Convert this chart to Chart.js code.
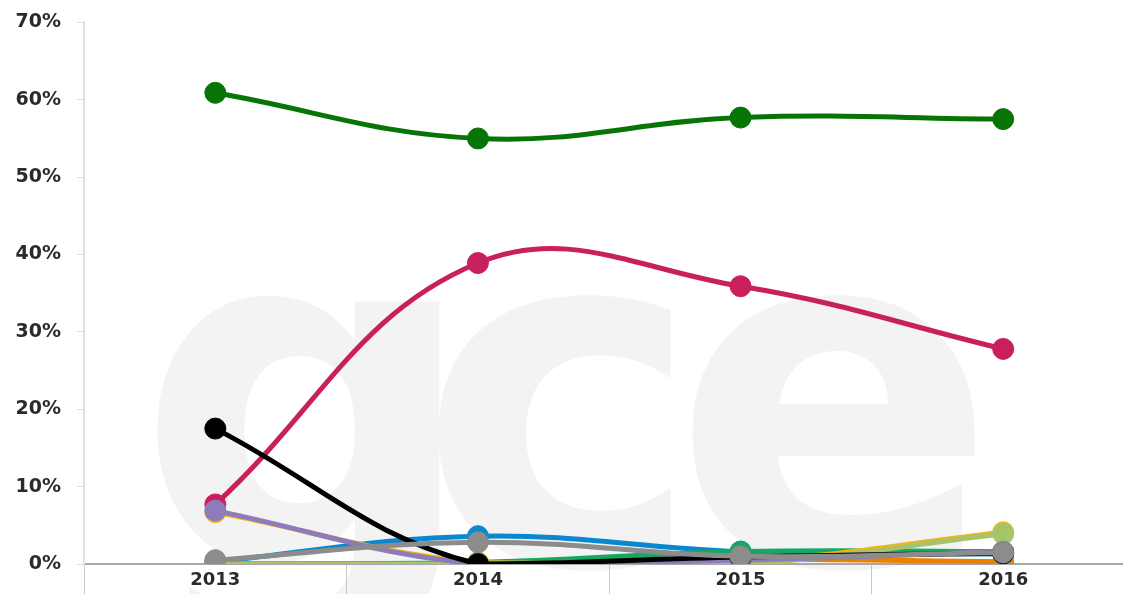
<!DOCTYPE html>
<html>
<head>
<meta charset="utf-8">
<script src="https://cdn.jsdelivr.net/npm/chart.js@4/dist/chart.umd.min.js"></script>
<style>
  html, body { margin: 0; padding: 0; background: #fff; overflow: hidden; }
  #wrap { position: relative; width: 1146px; height: 594px; overflow: hidden; }
  .mark {
    position: absolute; top: 158px;
    font-family: "DejaVu Sans", sans-serif; font-weight: 700; font-size: 480px;
    line-height: 1; color: #f3f3f3;
  }
  canvas { position: absolute; left: 0; top: -5px; }
</style>
</head>
<body>
<div id="wrap">
  <div class="mark" style="left:136px">g</div>
  <div class="mark" style="left:418px">c</div>
  <div class="mark" style="left:672px">e</div>
  <canvas id="myChart" width="1146" height="599"></canvas>
</div>
<script>
let years = ['2013', '2014', '2015', '2016'];
let yTicks = [0, 10, 20, 30, 40, 50, 60, 70];

// series, top-most first (Chart.js paints dataset 0 last)
let grayVals   = [0.5, 2.8, 1.0, 1.5];
let blackVals  = [17.5, 0, 0.9, 1.4];
let purpleVals = [6.9, 0, 0.5, 1.6];
let limeVals   = [0, 0, 0, 3.9];
let yellowVals = [6.7, 0.2, 0.3, 4.1];
let tealVals   = [0, 0.2, 1.6, 1.6];
let blueVals   = [0.3, 3.6, 1.6, 1.3];
let orangeVals = [0, 0, 0.6, 0.3];
let redVals    = [7.7, 38.9, 35.9, 27.8];
let greenVals  = [60.9, 55.0, 57.7, 57.5];

function series(label, data, color) {
    return {
        label: label,
        data: data,
        borderColor: color,
        backgroundColor: color,
        pointBackgroundColor: color,
        pointBorderColor: color,
        borderWidth: 5,
        pointRadius: 10.5,
        pointBorderWidth: 1,
        tension: 0.4,
        fill: false
    };
}

let ctx = document.getElementById('myChart').getContext('2d');
new Chart(ctx, {
    type: 'line',
    data: {
        labels: years,
        datasets: [
            series('Gray', grayVals, '#8c8c8c'),
            series('Black', blackVals, '#000000'),
            series('Purple', purpleVals, '#8f7bb9'),
            series('Lime', limeVals, '#a6c46a'),
            series('Yellow', yellowVals, '#f0b41c'),
            series('Teal', tealVals, '#15a862'),
            series('Blue', blueVals, '#0a88cf'),
            series('Orange', orangeVals, '#ea8200'),
            series('Red', redVals, '#c8205c'),
            series('Green', greenVals, '#067506')
        ]
    },
    options: {
        responsive: false,
        animation: false,
        layout: { padding: { top: 5, right: 0, left: 0, bottom: 0 } },
        plugins: { legend: { display: false }, tooltip: { enabled: false } },
        scales: {
            x: {
                offset: true,
                afterFit: (s) => { s.height = 30; },
                border: { color: '#a8a8a8', width: 2 },
                grid: {
                    offset: true,
                    drawOnChartArea: false,
                    tickLength: 30,
                    color: '#c8c8c8'
                },
                ticks: {
                    padding: -24,
                    color: '#2b2b2b',
                    font: { family: 'DejaVu Sans', weight: 'bold', size: 18 }
                }
            },
            y: {
                min: 0,
                max: 70,
                afterFit: (s) => { s.width = 84; },
                afterBuildTicks: (s) => { s.ticks = yTicks.map(v => ({ value: v })); },
                border: { color: '#e0e0e0', width: 2 },
                grid: { drawOnChartArea: false, tickLength: 7, color: '#e0e0e0' },
                ticks: {
                    padding: 16,
                    color: '#2b2b2b',
                    font: { family: 'DejaVu Sans', weight: 'bold', size: 19 },
                    callback: (v) => v + '%'
                }
            }
        }
    }
});
</script>
</body>
</html>
